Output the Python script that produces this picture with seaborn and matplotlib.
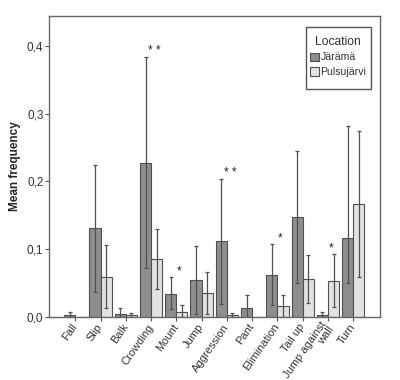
import matplotlib
matplotlib.use("Agg")
import matplotlib.pyplot as plt
from matplotlib.patches import Rectangle
import seaborn as sns
import pandas as pd
import numpy as np

behaviours = ["Fall", "Slip", "Balk", "Crowding", "Mount", "Jump", "Aggression",
              "Pant", "Elimination", "Tail up", "Jump against\nwall", "Turn"]
locations = ["Järämä", "Pulsujärvi"]
jarama_mean = [0.003, 0.131, 0.004, 0.228, 0.034, 0.054, 0.112, 0.013, 0.062, 0.147, 0.002, 0.116]
jarama_low  = [0.000, 0.037, 0.000, 0.072, 0.011, 0.004, 0.018, 0.000, 0.017, 0.050, 0.000, 0.050]
jarama_high = [0.007, 0.225, 0.013, 0.384, 0.058, 0.105, 0.204, 0.032, 0.107, 0.245, 0.007, 0.282]
pulsu_mean  = [0.000, 0.059, 0.002, 0.085, 0.007, 0.035, 0.002, 0.000, 0.016, 0.055, 0.053, 0.166]
pulsu_low   = [0.000, 0.013, 0.000, 0.041, 0.000, 0.004, 0.000, 0.000, 0.000, 0.020, 0.014, 0.058]
pulsu_high  = [0.000, 0.106, 0.005, 0.129, 0.017, 0.066, 0.005, 0.000, 0.032, 0.091, 0.092, 0.274]
sig_labels  = {"Crowding": "* *", "Mount": "*", "Aggression": "* *",
               "Elimination": "*", "Jump against\nwall": "*"}

df = pd.DataFrame({
    "Behaviour": behaviours * 2,
    "Location": [locations[0]] * len(behaviours) + [locations[1]] * len(behaviours),
    "Mean": jarama_mean + pulsu_mean,
})

sns.set_style("white")
plt.rcParams["font.family"] = ["Liberation Sans", "DejaVu Sans"]
fig = plt.figure(figsize=(4, 3.8), dpi=100)
ax = fig.add_axes([0.1225, 0.167, 0.8275, 0.791])

palette = {"Järämä": "#8e8e8e", "Pulsujärvi": "#e2e2e2"}
sns.barplot(data=df, x="Behaviour", y="Mean", hue="Location", palette=palette,
            errorbar=None, width=0.88, edgecolor="#505050", linewidth=0.8,
            saturation=1, ax=ax)

bar_containers = list(ax.containers)
lows = [jarama_low, pulsu_low]
highs = [jarama_high, pulsu_high]
means = [jarama_mean, pulsu_mean]
for gi, cont in enumerate(bar_containers):
    for bi, patch in enumerate(cont.patches):
        xc = patch.get_x() + patch.get_width() / 2
        m = means[gi][bi]
        lo, hi = lows[gi][bi], highs[gi][bi]
        if hi - lo > 0:
            ax.errorbar([xc], [m], yerr=[[m - lo], [hi - m]], fmt="none",
                        ecolor="#505050", elinewidth=0.9, capsize=1.3, capthick=0.9)

for name, txt in sig_labels.items():
    bi = behaviours.index(name)
    top = max(jarama_high[bi], pulsu_high[bi])
    ax.text(bi + 0.12, top + 0.0, txt, ha="center", va="bottom",
            fontsize=8.5, color="#222222")

ax.set_ylim(0, 0.445)
ax.set_xlim(-1.04, len(behaviours) + 0.06)
ax.set_yticks([0.0, 0.1, 0.2, 0.3, 0.4])
ax.set_yticklabels(["0,0", "0,1", "0,2", "0,3", "0,4"], fontsize=8.5, color="#333333")
ax.tick_params(axis="y", left=True, length=3, width=0.8, color="#555555", pad=1)
ax.tick_params(axis="x", bottom=True, length=3, width=0.8, color="#555555", pad=3)
ax.set_xticks(range(len(behaviours)))
ax.set_xticklabels(behaviours, rotation=55, ha="right", va="center",
                   rotation_mode="anchor", multialignment="right",
                   fontsize=8, color="#333333", linespacing=0.95)
ax.set_xlabel("")
ax.set_ylabel("Mean frequency", fontsize=8.5, fontweight="bold", labelpad=4)
for s in ax.spines.values():
    s.set_color("#666666")
    s.set_linewidth(1.0)

# legend box (frame drawn separately to match the reference's padding)
ax.add_patch(Rectangle((0.776, 0.757), 0.197, 0.206, transform=ax.transAxes,
                       facecolor="white", edgecolor="#555555", linewidth=1.0,
                       zorder=4))
leg = ax.legend(title="Location", loc="upper left", fontsize=7.6, title_fontsize=8.7,
                frameon=False, handlelength=0.85, handleheight=0.85,
                handletextpad=0.15, borderpad=0.3, labelspacing=0.45,
                borderaxespad=0.0, bbox_to_anchor=(0.779, 0.945))
leg.set_zorder(5)
leg.get_title().set_color("#333333")
for t in leg.get_texts():
    t.set_color("#333333")

fig.savefig("out.png", dpi=100)
